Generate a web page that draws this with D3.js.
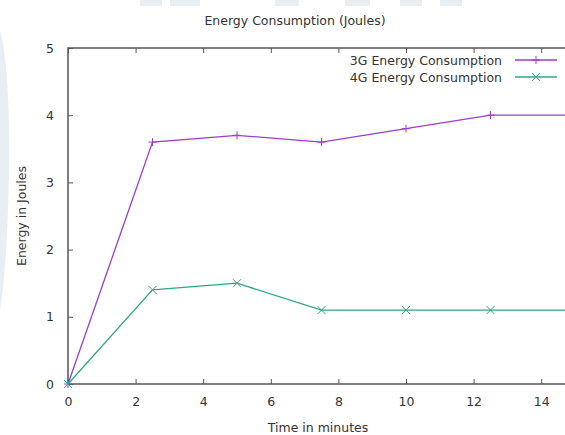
<!DOCTYPE html>
<html>
<head>
<meta charset="utf-8">
<script src="https://cdn.jsdelivr.net/npm/d3@7"></script>
<style>
  body { margin: 0; background: #fff; }
  svg { display: block; font-family: "DejaVu Sans", sans-serif; }
</style>
</head>
<body>
<div id="chart"></div>
<script>
// data
var times = [0, 2.5, 5, 7.5, 10, 12.5, 15];
var energy3G = [0, 3.6, 3.7, 3.6, 3.8, 4.0, 4.0];
var energy4G = [0, 1.4, 1.5, 1.1, 1.1, 1.1, 1.1];
var xTicks = [0, 2, 4, 6, 8, 10, 12, 14];
var yTicks = [0, 1, 2, 3, 4, 5];
var seriesNames = ["3G Energy Consumption", "4G Energy Consumption"];

var W = 565, H = 435;
var margin = { left: 68, top: 48 },
    plotW = 507,
    plotH = 336;

var svg = d3.select("#chart").append("svg")
    .attr("width", W)
    .attr("height", H);

// faint watermark behind the chart
var wm = svg.append("g").attr("fill", "#e8eef1");
[[140, 22], [170, 30], [275, 24], [345, 25], [400, 22], [440, 22]].forEach(function (r) {
    wm.append("rect").attr("x", r[0]).attr("y", 0).attr("width", r[1]).attr("height", 6);
});
wm.append("path")
    .attr("d", "M0,30 C8,60 10,120 9,170 C8,230 5,280 0,310 Z");

var x = d3.scaleLinear().domain([0, 15]).range([0, plotW]);
var y = d3.scaleLinear().domain([0, 5]).range([plotH, 0]);

var g = svg.append("g")
    .attr("transform", "translate(" + margin.left + "," + margin.top + ")");

// frame
var axisColor = "#555";
g.append("rect")
    .attr("width", plotW).attr("height", plotH)
    .attr("fill", "none")
    .attr("stroke", axisColor).attr("stroke-width", 1.5);

// bottom axis (ticks point inward)
var xAxis = g.append("g")
    .attr("transform", "translate(0," + plotH + ")")
    .call(d3.axisBottom(x).tickValues(xTicks).tickSize(-5).tickPadding(13).tickFormat(d3.format("d")));
xAxis.select(".domain").remove();

// top mirror ticks
var xTop = g.append("g")
    .call(d3.axisTop(x).tickValues(xTicks).tickSize(-5).tickFormat(""));
xTop.select(".domain").remove();

// left axis
var yAxis = g.append("g")
    .call(d3.axisLeft(y).tickValues(yTicks).tickSize(-5).tickPadding(14).tickFormat(d3.format("d")));
yAxis.select(".domain").remove();

[xAxis, xTop, yAxis].forEach(function (a) {
    a.selectAll("line").attr("stroke", axisColor);
    a.selectAll("text").attr("fill", "#333").style("font-size", "12.5px")
        .style("font-family", "'DejaVu Sans', sans-serif");
});

// the series
var series = [
    { name: seriesNames[0], values: energy3G, color: "#9a3ecb", mark: "plus" },
    { name: seriesNames[1], values: energy4G, color: "#2ea884", mark: "cross" }
];

var line = d3.line()
    .x(function (d) { return x(d[0]); })
    .y(function (d) { return y(d[1]); });

function drawMark(sel, mark, cx, cy, color) {
    var s = 4;
    var p = mark === "plus"
        ? "M" + (cx - s) + "," + cy + "H" + (cx + s) + "M" + cx + "," + (cy - s) + "V" + (cy + s)
        : "M" + (cx - s) + "," + (cy - s) + "L" + (cx + s) + "," + (cy + s) +
          "M" + (cx - s) + "," + (cy + s) + "L" + (cx + s) + "," + (cy - s);
    sel.append("path").attr("d", p).attr("stroke", color).attr("stroke-width", 1).attr("fill", "none");
}

series.forEach(function (s) {
    var pts = times.map(function (t, i) { return [t, s.values[i]]; });
    g.append("path")
        .datum(pts)
        .attr("d", line)
        .attr("fill", "none")
        .attr("stroke", s.color)
        .attr("stroke-width", 1.3);
    pts.forEach(function (p) {
        drawMark(g, s.mark, x(p[0]), y(p[1]), s.color);
    });
});

// legend
series.forEach(function (s, i) {
    var ly = 60 + i * 17;
    svg.append("text")
        .attr("x", 502).attr("y", ly + 4.5)
        .attr("text-anchor", "end")
        .style("font-size", "12.5px")
        .attr("fill", "#333")
        .text(s.name);
    svg.append("line")
        .attr("x1", 515).attr("x2", 557).attr("y1", ly).attr("y2", ly)
        .attr("stroke", s.color).attr("stroke-width", 1.3);
    drawMark(svg, s.mark, 536, ly, s.color);
});

// titles
svg.append("text")
    .attr("x", 295).attr("y", 25)
    .attr("text-anchor", "middle")
    .style("font-size", "12.5px")
    .attr("fill", "#333")
    .text("Energy Consumption (Joules)");

svg.append("text")
    .attr("x", 318).attr("y", 432)
    .attr("text-anchor", "middle")
    .style("font-size", "12.5px")
    .attr("fill", "#333")
    .text("Time in minutes");

svg.append("text")
    .attr("transform", "translate(26,216) rotate(-90)")
    .attr("text-anchor", "middle")
    .style("font-size", "12.5px")
    .attr("fill", "#333")
    .text("Energy in Joules");
</script>
</body>
</html>
